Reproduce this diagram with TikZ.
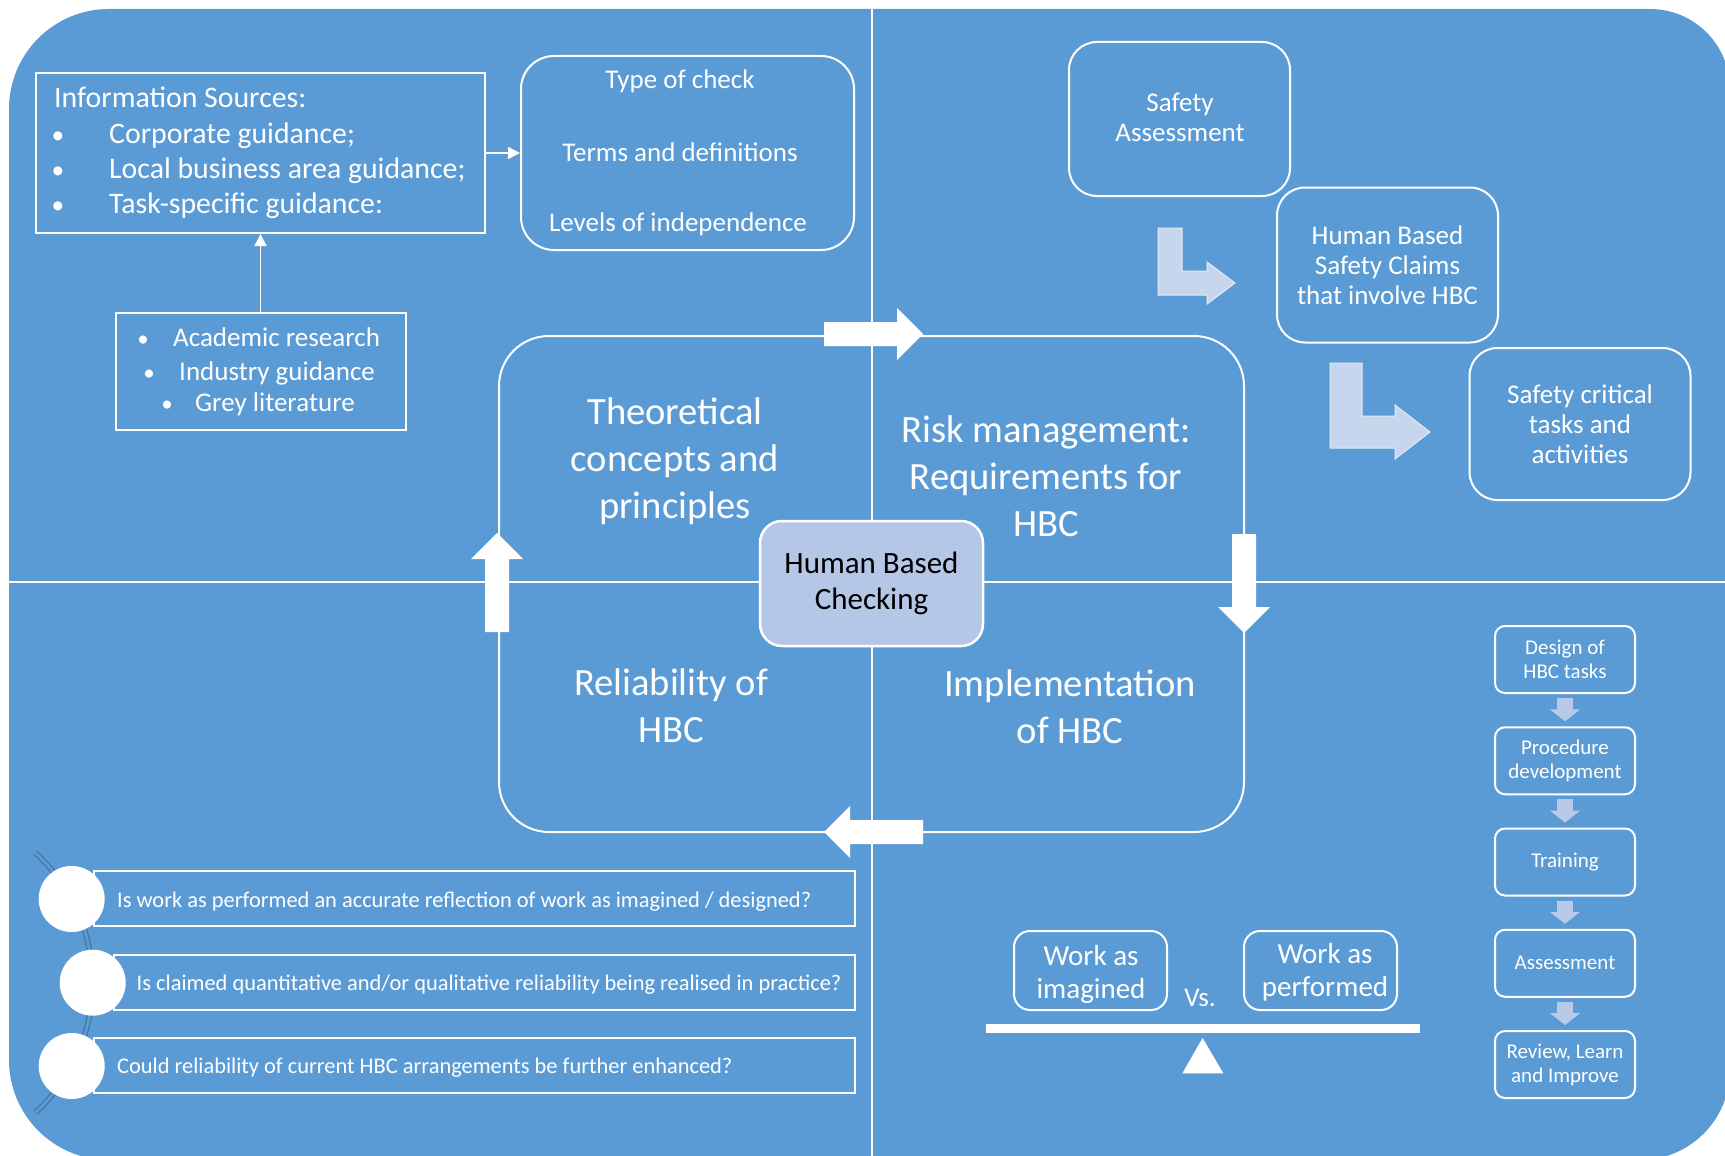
\documentclass[tikz,border=0pt]{standalone}
\usepackage{fontspec}
\setmainfont{Carlito}
\usetikzlibrary{arrows.meta}
\definecolor{bgblue}{HTML}{5B9BD5}
\definecolor{hbcfill}{HTML}{B4C7E7}
\definecolor{bentfill}{HTML}{C7D6EC}
\definecolor{bentedge}{HTML}{E2EAF5}
\definecolor{smallarr}{HTML}{B8CAE8}
\definecolor{dblline}{HTML}{44729F}
\newcommand{\myfs}[2]{\fontsize{#1}{#2}\selectfont}
\newcommand{\cyclearrow}[3]{%
  \fill[white,shift={(#1,#2)},rotate=#3] (0,-12) -- (73,-12) -- (73,-26) -- (99,0) -- (73,26) -- (73,12) -- (0,12) -- cycle;}
\newcommand{\smbul}{\scalebox{0.85}{\textbullet}}
\tikzset{
  wtxt/.style={text=white, inner sep=0pt},
  ln/.style={anchor=mid, yshift=-6pt},
  lnw/.style={anchor=mid west, yshift=-6pt},
  sqbox/.style={draw=white, line width=2pt, inner sep=0pt},
  rbox/.style={draw=white, line width=2pt, inner sep=0pt, align=center, text=white},
  conn/.style={draw=white, line width=1.5pt, -{Triangle[length=12pt,width=12pt]}},
  chainarr/.style={draw=smallarr, line width=16pt, -{Triangle[length=12pt,width=30pt]}, shorten <=4pt, shorten >=5pt},
  bent/.style={fill=bentfill, draw=bentedge, line width=1pt},
  dbl/.style={draw=dblline, double=bgblue, double distance=3pt, line width=1.2pt},
  f38/.style={font=\myfs{38.6}{47}},
  f31/.style={font=\myfs{31}{36}},
  f30/.style={font=\myfs{29.8}{35.5}},
  f29w/.style={font=\myfs{29}{33}},
  f27/.style={font=\myfs{27}{30}},
  f22/.style={font=\myfs{22.4}{26}},
  f21/.style={font=\myfs{21}{24}},
  qtxt/.style={wtxt, f38, align=center},
}
\begin{document}
\begin{tikzpicture}[x=1pt,y=-1pt]
\useasboundingbox (0,0) rectangle (1725,1156);
\clip (0,0) rectangle (1725,1156);
% background
\fill[bgblue] (9,109) arc[start angle=180,end angle=270,radius=100] -- (1650,9)
  arc[start angle=270,end angle=360,radius=80] -- (1730,1070)
  arc[start angle=0,end angle=90,radius=90] -- (109,1160)
  arc[start angle=90,end angle=180,radius=100] -- cycle;
% quadrant lines
\draw[white,line width=2pt] (872,9) -- (872,1160);
\draw[white,line width=2pt] (9,582) -- (1730,582);

% ---------- top-left: information sources ----------
\node[sqbox, minimum width=449pt, minimum height=160pt] (info) at (260.5,153) {};
\node[wtxt,f30,lnw] (infoT) at (54,99) {Information Sources:};
\node[wtxt,f30,ln] (ib1) at (58,135) {\smbul};
\node[wtxt,f30,ln] (ib2) at (58,170) {\smbul};
\node[wtxt,f30,ln] (ib3) at (58,205) {\smbul};
\node[wtxt,f30,lnw] (i1) at (109,135) {Corporate guidance;};
\node[wtxt,f30,lnw] (i2) at (109,170) {Local business area guidance;};
\node[wtxt,f30,lnw] (i3) at (109,205) {Task-specific guidance:};

\node[rbox, rounded corners=33pt, minimum width=333pt, minimum height=194pt] (type) at (687.5,153) {};
\node[wtxt,f27,ln] (t1) at (680,80) {Type of check};
\node[wtxt,f27,ln] (t2) at (680,153) {Terms and definitions};
\node[wtxt,f27,ln] (t3) at (678,223) {Levels of independence};

\node[sqbox, minimum width=290pt, minimum height=117pt] (acad) at (260.5,371.5) {};
\node[wtxt,f27,ln] (ab1) at (143,338) {\smbul};
\node[wtxt,f27,ln] (ab2) at (149,372) {\smbul};
\node[wtxt,f27,ln] (ab3) at (167,403) {\smbul};
\node[wtxt,f27,lnw] (a1) at (173,338) {Academic research};
\node[wtxt,f27,lnw] (a2) at (179,372) {Industry guidance};
\node[wtxt,f27,lnw] (a3) at (195,403) {Grey literature};

\draw[conn] (info.east) -- (type.west);
\draw[conn] (acad.north) -- (info.south);

% ---------- central cycle ----------
\node[draw=white, line width=2pt, rounded corners=50pt, minimum width=745pt, minimum height=496pt, inner sep=0pt] (cyc) at (871.5,584) {};
\cyclearrow{824}{334}{0}
\cyclearrow{1244}{534}{-90}
\cyclearrow{923}{832}{180}
\cyclearrow{497}{632}{90}

\node[qtxt] (q1) at (675,461) {Theoretical\\concepts and\\principles};
\node[qtxt] (q2) at (1046,476) {Risk management:\\Requirements for\\HBC};
\node[qtxt] (q3) at (671,706) {Reliability of\\HBC};
\node[qtxt] (q4) at (1070,707) {Implementation\\of HBC};

\node[draw=white, fill=hbcfill, line width=2.5pt, rounded corners=22pt, minimum width=223pt, minimum height=125pt, inner sep=0pt, align=center, text=black, f31] (hbc) at (871.5,583.5) {Human Based\\Checking};

% ---------- top-right: safety ----------
\node[rbox, rounded corners=28pt, minimum width=221pt, minimum height=154pt] (sa) at (1179.5,119) {};
\node[wtxt, f27, align=center] (saT) at (1180,117) {Safety\\Assessment};
\node[rbox, f27, rounded corners=28pt, minimum width=221pt, minimum height=155pt] (claims) at (1387.5,265) {Human Based\\Safety Claims\\that involve HBC};
\node[rbox, f27, rounded corners=28pt, minimum width=221pt, minimum height=152pt] (crit) at (1580,424) {Safety critical\\tasks and\\activities};
\filldraw[bent] (1158,228) -- (1182,228) -- (1182,271) -- (1207,271) -- (1207,262) -- (1235,283) -- (1207,304) -- (1207,295) -- (1158,295) -- cycle;
\filldraw[bent] (1330,363) -- (1362,363) -- (1362,416) -- (1395,416) -- (1395,405) -- (1430,432) -- (1395,459) -- (1395,448) -- (1330,448) -- cycle;

% ---------- bottom-right: process chain ----------
\node[rbox, f21, rounded corners=10pt, minimum width=140pt, minimum height=67pt] (d1) at (1565,659.5) {Design of\\HBC tasks};
\node[rbox, f21, rounded corners=10pt, minimum width=140pt, minimum height=67pt] (d2) at (1565,760.75) {Procedure\\development};
\node[rbox, f21, rounded corners=10pt, minimum width=140pt, minimum height=67pt] (d3) at (1565,862) {Training};
\node[rbox, f21, rounded corners=10pt, minimum width=140pt, minimum height=67pt] (d4) at (1565,963.25) {Assessment};
\node[rbox, f21, rounded corners=10pt, minimum width=140pt, minimum height=67pt] (d5) at (1565,1064.5) {Review, Learn\\and Improve};
\draw[chainarr] (d1) -- (d2);
\draw[chainarr] (d2) -- (d3);
\draw[chainarr] (d3) -- (d4);
\draw[chainarr] (d4) -- (d5);

% ---------- work as imagined vs performed ----------
\node[rbox, rounded corners=16pt, minimum width=153pt, minimum height=79pt] (wai) at (1090.5,970.5) {};
\node[rbox, rounded corners=16pt, minimum width=153pt, minimum height=79pt] (wap) at (1320.5,970.5) {};
\node[wtxt, f29w, align=center] (waiT) at (1091,974.5) {Work as\\imagined};
\node[wtxt, f29w, align=center] (wapT) at (1325,972) {Work as\\performed};
\node[wtxt, f27, ln] (vs) at (1200,998) {Vs.};
\fill[white] (985.6,1024) rectangle (1419.6,1033);
\fill[white] (1182.3,1073.4) -- (1223.4,1073.4) -- (1202.6,1038) -- cycle;

% ---------- bottom-left: questions ----------
\draw[dbl] (-83.4,982.7) ++(-47.5:176) arc[start angle=-47.5, end angle=47.5, radius=176];
\node[sqbox, minimum width=761.5pt, minimum height=55pt] (r1) at (474.25,898.5) {};
\node[sqbox, minimum width=740.6pt, minimum height=55pt] (r2) at (484.7,982.5) {};
\node[sqbox, minimum width=761.5pt, minimum height=55pt] (r3) at (474.25,1065) {};
\node[circle, fill=white, minimum size=66pt, inner sep=0pt] (c1) at (71.7,899) {};
\node[circle, fill=white, minimum size=66pt, inner sep=0pt] (c2) at (92.7,982.7) {};
\node[circle, fill=white, minimum size=66pt, inner sep=0pt] (c3) at (71.7,1066) {};
\node[wtxt,f22,lnw] (qa) at (117,899) {Is work as performed an accurate reflection of work as imagined / designed?};
\node[wtxt,f22,lnw] (qb) at (136.5,982) {Is claimed quantitative and/or qualitative reliability being realised in practice?};
\node[wtxt,f22,lnw] (qc) at (117,1065) {Could reliability of current HBC arrangements be further enhanced?};
\end{tikzpicture}
\end{document}
